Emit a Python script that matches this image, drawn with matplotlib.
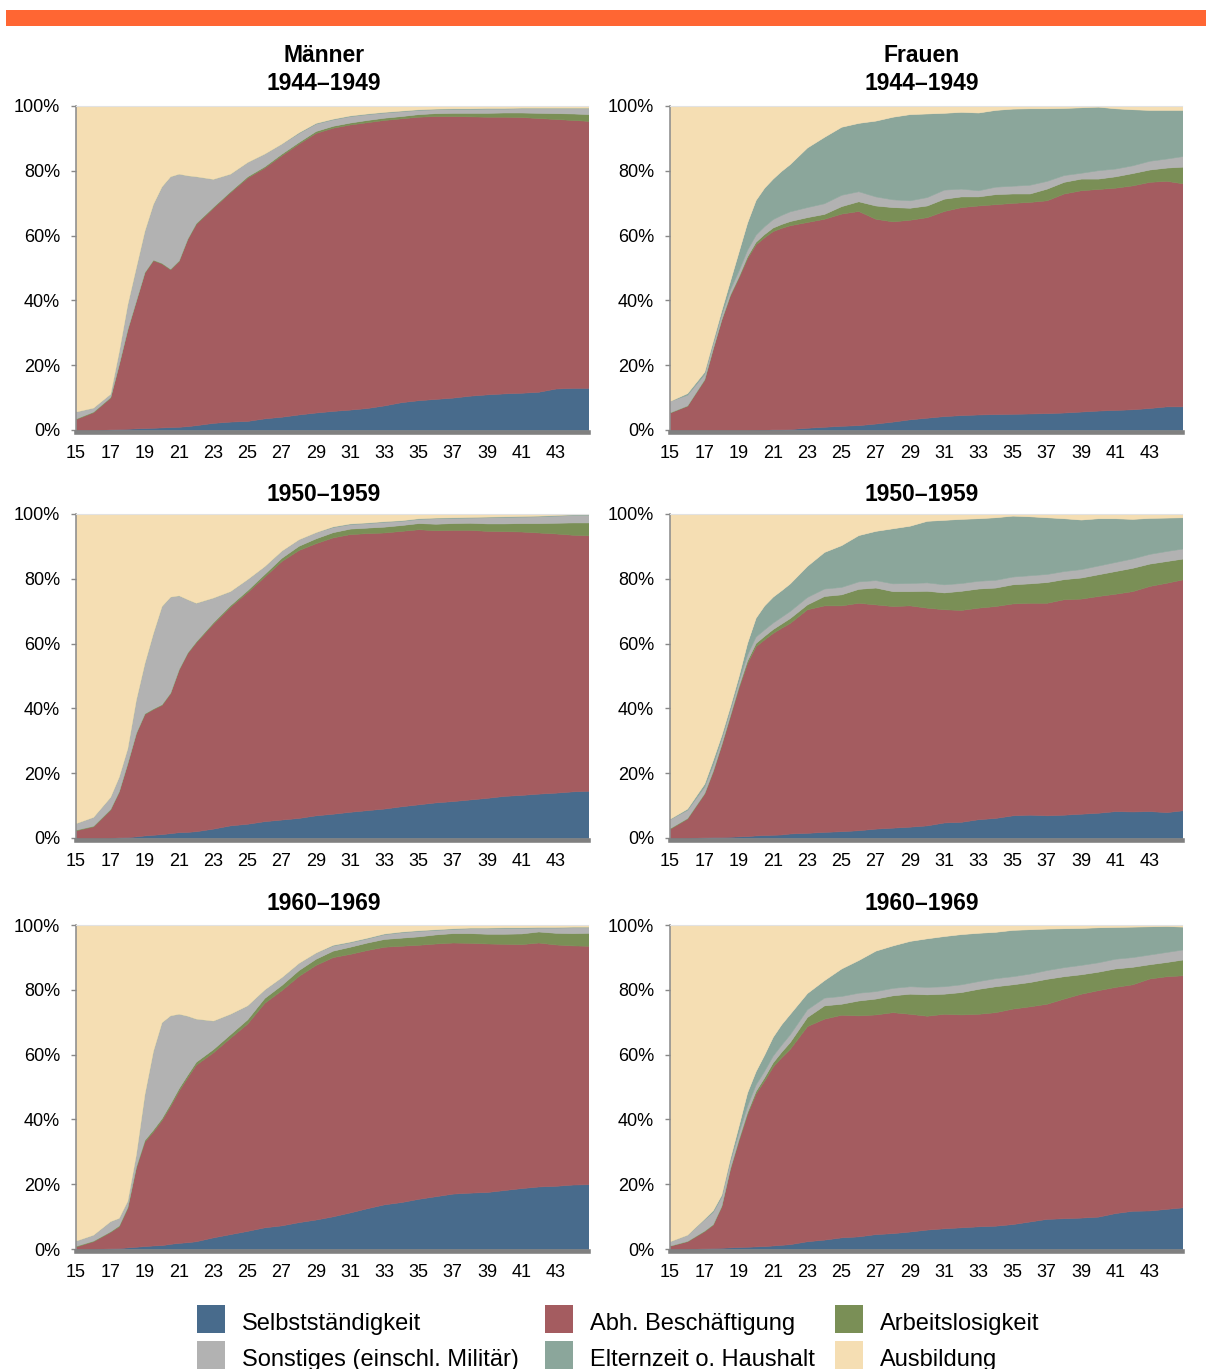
import numpy as np
import matplotlib
matplotlib.use('Agg')
import matplotlib.pyplot as plt
from matplotlib.patches import Rectangle

plt.rcParams['font.family'] = ['Liberation Sans', 'DejaVu Sans']

ages = [15, 16, 17, 17.5, 18, 18.5, 19, 19.5, 20, 20.5, 21, 21.5,
        22, 23, 24, 25, 26, 27, 28, 29, 30, 31, 32, 33, 34, 35,
        36, 37, 38, 39, 40, 41, 42, 43, 44, 45]

# Anteile in % -- Männer 1944-1949
m44_sel = [0.0, 0.0, 0.2, 0.3, 0.4, 0.5, 0.6, 0.7, 0.8, 0.9, 1.0, 1.2, 1.5, 2.2, 2.6, 2.8, 3.6, 4.1,
           4.8, 5.4, 5.9, 6.3, 6.8, 7.6, 8.6, 9.2, 9.6, 10.0, 10.6, 11.0, 11.3, 11.5, 11.8, 12.8, 13.0, 13.0]
m44_abh = [3.4, 5.5, 9.8, 19.9, 30.6, 39.3, 48.0, 51.7, 50.6, 48.7, 51.2, 57.7, 62.1, 66.4, 70.8, 75.1, 77.4, 80.7,
           83.6, 86.3, 87.4, 88.0, 88.2, 88.1, 87.6, 87.5, 87.3, 86.9, 86.2, 85.7, 85.4, 85.1, 84.5, 83.2, 82.7, 82.4]
m44_arb = [0.2, 0.2, 0.2, 0.2, 0.2, 0.2, 0.2, 0.2, 0.2, 0.2, 0.2, 0.2, 0.3, 0.3, 0.3, 0.4, 0.4, 0.5,
           0.5, 0.6, 0.6, 0.6, 0.7, 0.7, 0.7, 0.8, 0.9, 1.0, 1.1, 1.2, 1.3, 1.4, 1.6, 1.8, 2.0, 2.1]
m44_son = [2.1, 1.2, 1.0, 3.8, 7.6, 10.2, 12.7, 17.2, 23.6, 28.5, 26.7, 19.5, 14.4, 8.6, 5.4, 4.4, 3.9, 3.1,
           2.8, 2.3, 2.0, 2.0, 1.8, 1.6, 1.5, 1.3, 1.2, 1.2, 1.2, 1.3, 1.2, 1.3, 1.4, 1.5, 1.6, 1.8]
m44_elt = [0.0, 0.0, 0.0, 0.0, 0.0, 0.0, 0.0, 0.0, 0.0, 0.0, 0.0, 0.0, 0.0, 0.0, 0.0, 0.0, 0.0, 0.0,
           0.2, 0.2, 0.2, 0.2, 0.2, 0.2, 0.2, 0.2, 0.2, 0.2, 0.2, 0.2, 0.2, 0.2, 0.2, 0.2, 0.2, 0.2]

# Männer 1950-1959
m50_sel = [0.0, 0.0, 0.1, 0.2, 0.3, 0.5, 0.8, 1.0, 1.2, 1.5, 1.8, 1.9, 2.1, 2.9, 3.9, 4.4, 5.2, 5.7,
           6.2, 7.0, 7.5, 8.1, 8.6, 9.1, 9.8, 10.4, 11.0, 11.4, 11.9, 12.4, 13.0, 13.3, 13.7, 14.0, 14.4, 14.6]
m50_abh = [2.4, 3.6, 8.7, 14.1, 22.7, 31.8, 37.5, 38.8, 39.9, 43.2, 50.2, 55.2, 58.3, 63.3, 67.5, 71.5, 75.5, 79.8,
           82.7, 84.0, 85.3, 85.7, 85.5, 85.2, 85.0, 84.9, 84.0, 83.7, 83.2, 82.4, 81.7, 81.3, 80.6, 80.0, 79.2, 78.8]
m50_arb = [0.2, 0.2, 0.2, 0.2, 0.2, 0.2, 0.2, 0.2, 0.2, 0.2, 0.2, 0.2, 0.3, 0.4, 0.5, 0.6, 0.8, 1.0,
           1.3, 1.5, 1.6, 1.7, 1.7, 1.8, 1.8, 1.9, 2.0, 2.1, 2.2, 2.3, 2.4, 2.6, 2.9, 3.3, 3.8, 4.0]
m50_son = [2.0, 2.7, 3.7, 4.4, 4.5, 10.2, 15.5, 23.3, 30.3, 29.6, 22.7, 16.4, 11.9, 7.6, 4.3, 3.4, 2.4, 2.2,
           2.0, 1.9, 1.6, 1.4, 1.4, 1.5, 1.3, 1.3, 1.7, 1.6, 1.6, 1.9, 2.0, 2.0, 2.1, 2.2, 2.3, 2.3]
m50_elt = [0.0, 0.0, 0.0, 0.0, 0.0, 0.0, 0.0, 0.0, 0.0, 0.0, 0.0, 0.0, 0.0, 0.0, 0.0, 0.0, 0.0, 0.0,
           0.0, 0.0, 0.2, 0.2, 0.2, 0.2, 0.2, 0.2, 0.2, 0.2, 0.2, 0.2, 0.2, 0.2, 0.2, 0.2, 0.2, 0.2]

# Männer 1960-1969
m60_sel = [0.0, 0.1, 0.2, 0.3, 0.5, 0.7, 0.9, 1.1, 1.2, 1.6, 1.9, 2.1, 2.4, 3.6, 4.6, 5.6, 6.7, 7.3,
           8.3, 9.1, 10.1, 11.3, 12.6, 13.8, 14.5, 15.5, 16.3, 17.1, 17.4, 17.6, 18.2, 18.8, 19.3, 19.5, 19.9, 20.0]
m60_abh = [0.8, 2.3, 5.1, 6.7, 12.2, 24.4, 32.3, 35.2, 38.6, 42.6, 47.0, 50.9, 54.5, 57.1, 60.6, 64.0, 69.3, 72.6,
           76.0, 78.6, 80.0, 79.8, 79.7, 79.5, 79.1, 78.4, 78.0, 77.5, 77.1, 76.7, 76.0, 75.3, 75.3, 74.5, 73.8, 73.6]
m60_arb = [0.2, 0.2, 0.2, 0.3, 0.3, 0.4, 0.5, 0.6, 0.6, 0.7, 0.8, 0.8, 0.9, 1.0, 1.1, 1.3, 1.5, 1.6,
           1.8, 1.9, 2.0, 2.2, 2.3, 2.4, 2.5, 2.6, 2.8, 2.9, 3.0, 3.0, 3.1, 3.3, 3.4, 3.6, 3.8, 4.0]
m60_son = [1.6, 1.8, 3.1, 2.3, 1.9, 3.7, 14.1, 24.3, 29.6, 27.2, 22.9, 18.2, 13.3, 8.8, 6.3, 4.3, 2.6, 2.4,
           2.2, 1.9, 1.6, 1.4, 1.3, 1.5, 1.7, 1.7, 1.4, 1.3, 1.5, 1.7, 1.8, 1.7, 1.2, 1.6, 1.8, 1.7]
m60_elt = [0.0, 0.0, 0.0, 0.0, 0.0, 0.0, 0.0, 0.0, 0.0, 0.0, 0.0, 0.0, 0.0, 0.0, 0.0, 0.0, 0.0, 0.0,
           0.0, 0.0, 0.2, 0.2, 0.2, 0.2, 0.2, 0.2, 0.2, 0.2, 0.2, 0.2, 0.2, 0.2, 0.2, 0.2, 0.2, 0.2]

# Frauen 1944-1949
w44_sel = [0.0, 0.0, 0.0, 0.0, 0.0, 0.0, 0.0, 0.0, 0.1, 0.1, 0.2, 0.2, 0.3, 0.7, 1.0, 1.3, 1.5, 2.0,
           2.6, 3.3, 3.8, 4.3, 4.6, 4.8, 4.9, 5.0, 5.1, 5.2, 5.4, 5.7, 6.0, 6.2, 6.4, 6.8, 7.3, 7.3]
w44_abh = [5.4, 7.5, 15.5, 25.0, 34.0, 41.5, 47.0, 53.0, 57.2, 59.4, 61.2, 62.2, 62.9, 63.5, 64.2, 65.5, 66.1, 63.2,
           61.8, 61.6, 61.9, 63.3, 64.2, 64.5, 64.8, 65.1, 65.3, 65.7, 67.6, 68.3, 68.4, 68.6, 69.1, 69.8, 69.6, 68.8]
w44_arb = [0.1, 0.1, 0.2, 0.2, 0.2, 0.3, 0.4, 0.6, 0.8, 1.0, 1.1, 1.2, 1.3, 1.5, 1.5, 2.3, 3.0, 4.1,
           4.4, 3.7, 3.6, 3.8, 3.3, 2.8, 3.1, 2.9, 2.6, 3.6, 3.6, 3.6, 3.2, 3.5, 3.8, 3.8, 4.1, 5.2]
w44_son = [3.5, 3.3, 1.6, 1.5, 1.5, 1.6, 1.8, 2.0, 2.2, 2.4, 2.6, 2.8, 3.0, 3.1, 3.3, 3.5, 3.1, 2.8,
           2.4, 2.3, 2.6, 2.8, 2.4, 1.9, 2.3, 2.4, 2.7, 2.4, 2.1, 1.8, 2.6, 2.4, 2.4, 2.7, 2.8, 3.3]
w44_elt = [0.0, 0.5, 0.7, 0.8, 1.3, 2.6, 5.8, 8.4, 10.7, 11.9, 12.5, 13.6, 14.6, 18.4, 20.5, 21.0, 21.1, 23.4,
           25.5, 26.6, 25.8, 23.7, 23.7, 24.0, 23.7, 23.8, 23.6, 22.4, 20.7, 20.2, 19.6, 18.6, 17.3, 15.7, 15.0, 14.2]

# Frauen 1950-1959
w50_sel = [0.0, 0.1, 0.2, 0.3, 0.3, 0.4, 0.5, 0.6, 0.8, 0.9, 1.0, 1.1, 1.4, 1.6, 1.9, 2.1, 2.4, 2.9,
           3.2, 3.5, 3.9, 4.8, 5.0, 5.8, 6.2, 7.0, 7.2, 7.0, 7.2, 7.5, 7.8, 8.3, 8.2, 8.3, 8.0, 8.6]
w50_abh = [2.9, 5.9, 13.5, 20.2, 28.4, 37.1, 45.8, 53.4, 58.4, 60.4, 62.3, 63.8, 65.0, 69.0, 69.9, 69.7, 70.2, 69.2,
           68.4, 68.3, 67.2, 65.8, 65.4, 65.3, 65.4, 65.4, 65.4, 65.6, 66.5, 66.4, 66.9, 67.1, 68.0, 69.5, 70.8, 71.3]
w50_arb = [0.2, 0.2, 0.2, 0.3, 0.3, 0.4, 0.5, 0.8, 1.0, 1.1, 1.2, 1.3, 1.5, 1.5, 2.9, 3.4, 4.3, 5.2,
           4.6, 4.4, 5.2, 5.2, 5.9, 5.9, 5.7, 5.9, 6.0, 6.4, 6.2, 6.5, 6.7, 7.0, 7.2, 6.9, 6.7, 6.4]
w50_son = [2.8, 2.5, 2.0, 1.8, 1.6, 1.6, 1.6, 1.8, 2.0, 2.0, 2.0, 2.1, 2.2, 2.3, 2.3, 2.3, 2.3, 2.3,
           2.4, 2.5, 2.6, 2.5, 2.4, 2.4, 2.4, 2.4, 2.5, 2.5, 2.5, 2.6, 2.7, 2.8, 2.9, 3.0, 3.1, 3.1]
w50_elt = [0.1, 0.4, 0.9, 1.5, 1.2, 1.1, 1.5, 3.6, 5.8, 7.4, 8.0, 8.2, 8.5, 9.6, 11.3, 12.9, 14.3, 15.2,
           17.0, 17.7, 19.0, 19.9, 19.8, 19.3, 19.3, 18.8, 18.2, 17.5, 16.3, 15.3, 14.6, 13.5, 12.2, 11.1, 10.3, 9.6]

# Frauen 1960-1969
w60_sel = [0.0, 0.1, 0.2, 0.3, 0.4, 0.5, 0.6, 0.7, 0.8, 0.9, 1.1, 1.3, 1.5, 2.4, 2.9, 3.6, 3.9, 4.6,
           4.9, 5.4, 6.0, 6.4, 6.7, 7.0, 7.2, 7.7, 8.5, 9.3, 9.5, 9.7, 10.0, 11.1, 11.8, 11.9, 12.4, 12.9]
w60_abh = [1.0, 2.3, 5.3, 7.2, 12.8, 24.1, 32.8, 40.9, 47.2, 51.1, 55.2, 57.9, 60.3, 66.4, 68.2, 68.7, 68.2, 67.8,
           68.2, 67.2, 66.0, 66.2, 65.7, 65.6, 65.9, 66.5, 66.4, 66.4, 67.8, 69.1, 69.9, 69.8, 69.9, 71.6, 71.8, 71.6]
w60_arb = [0.1, 0.1, 0.2, 0.2, 0.2, 0.3, 0.5, 0.6, 0.8, 1.0, 1.3, 1.7, 2.1, 2.8, 4.1, 3.4, 4.6, 4.9,
           5.2, 6.2, 6.6, 6.2, 6.9, 7.7, 8.0, 7.5, 7.5, 7.7, 6.9, 6.0, 5.7, 5.7, 5.4, 4.4, 4.4, 4.9]
w60_son = [1.3, 1.9, 3.5, 3.8, 2.8, 2.2, 2.0, 2.0, 2.0, 2.0, 2.1, 2.2, 2.4, 2.4, 2.4, 2.4, 2.4, 2.3,
           2.3, 2.3, 2.3, 2.3, 2.4, 2.4, 2.5, 2.5, 2.6, 2.7, 2.8, 2.9, 2.9, 3.0, 3.0, 3.0, 3.1, 3.1]
w60_elt = [0.0, 0.0, 0.2, 0.5, 0.6, 0.9, 2.1, 4.1, 4.1, 5.0, 5.8, 6.3, 6.3, 5.0, 5.4, 8.5, 10.1, 12.5,
           13.1, 14.0, 15.0, 15.5, 15.5, 14.9, 14.3, 14.3, 13.7, 12.8, 12.0, 11.4, 10.8, 9.8, 9.4, 8.7, 8.0, 7.0]

labels = ['Selbstständigkeit', 'Abh. Beschäftigung', 'Arbeitslosigkeit',
          'Sonstiges (einschl. Militär)', 'Elternzeit o. Haushalt', 'Ausbildung']
colors = ['#486b8c', '#a45c60', '#7a8f56', '#b2b2b2', '#8ba69b', '#f5deb3']

W, H = 1206, 1369
fig = plt.figure(figsize=(W / 100, H / 100), dpi=100)

# orange Leiste oben
fig.add_artist(Rectangle((6 / W, 1 - 26 / H), 1200 / W, 16 / H,
                         transform=fig.transFigure, color='#ff6633', lw=0))


def draw_panel(ax, sel, abh, arb, son, elt):
    parts = np.array([sel, abh, arb, son, elt])
    aus = 100 - parts.sum(axis=0)  # Rest bis 100 %
    ax.stackplot(ages, *parts, aus, colors=colors, edgecolor='face', linewidth=0.4)
    ax.set_xlim(15, 44.9)
    ax.set_ylim(0, 100)
    ax.set_yticks(range(0, 101, 20))
    ax.set_yticklabels([f'{v}%' for v in range(0, 101, 20)])
    ax.set_xticks(range(15, 44, 2))
    ax.tick_params(axis='y', length=3.6, width=1, color='#888888', pad=8, labelsize=13)
    ax.tick_params(axis='x', length=0, pad=9, labelsize=13)
    ax.spines['right'].set_visible(False)
    ax.spines['top'].set_color('#e2e2e2')
    ax.spines['top'].set_linewidth(0.8)
    ax.spines['left'].set_color('#888888')
    ax.spines['left'].set_linewidth(1.1)
    ax.spines['bottom'].set_color('#808080')
    ax.spines['bottom'].set_linewidth(3.3)
    ax.spines['bottom'].set_position(('outward', 1.7))


panels = [
    (m44_sel, m44_abh, m44_arb, m44_son, m44_elt),
    (w44_sel, w44_abh, w44_arb, w44_son, w44_elt),
    (m50_sel, m50_abh, m50_arb, m50_son, m50_elt),
    (w50_sel, w50_abh, w50_arb, w50_son, w50_elt),
    (m60_sel, m60_abh, m60_arb, m60_son, m60_elt),
    (w60_sel, w60_abh, w60_arb, w60_son, w60_elt),
]
cohorts = ['1944–1949', '1950–1959', '1960–1969']
col_left = [76, 670]
row_top = [106, 514, 925]
title_y = [83, 494, 903]
title_x = [324, 922]

for i, data in enumerate(panels):
    r, c = divmod(i, 2)
    ax = fig.add_axes([col_left[c] / W, 1 - (row_top[r] + 324) / H, 512 / W, 324 / H])
    draw_panel(ax, *data)
    fig.text(title_x[c] / W, 1 - title_y[r] / H, cohorts[r],
             ha='center', va='center', fontsize=16.5, fontweight='bold')

fig.text(title_x[0] / W, 1 - 55 / H, 'Männer', ha='center', va='center', fontsize=16.5, fontweight='bold')
fig.text(title_x[1] / W, 1 - 55 / H, 'Frauen', ha='center', va='center', fontsize=16.5, fontweight='bold')

# Legende: 3 Spalten, 2 Zeilen
leg_x = [197, 545, 835]
leg_y = [1305, 1341]
for k in range(len(labels)):
    r, c = divmod(k, 3)
    fig.add_artist(Rectangle((leg_x[c] / W, 1 - (leg_y[r] + 28) / H), 28 / W, 28 / H,
                             transform=fig.transFigure, color=colors[k], lw=0))
    fig.text((leg_x[c] + 45) / W, 1 - (leg_y[r] + 25) / H, labels[k],
             ha='left', va='baseline', fontsize=17)

fig.savefig('out.png', dpi=100)
